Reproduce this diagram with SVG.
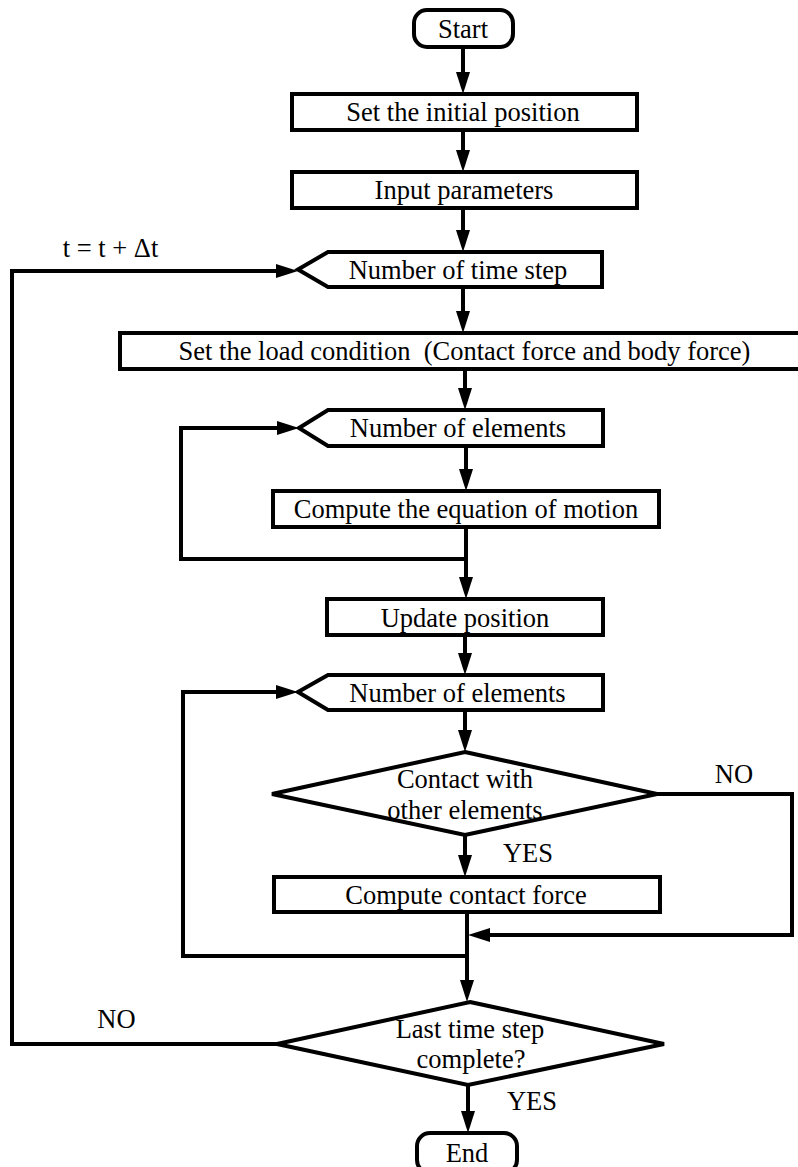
<svg xmlns="http://www.w3.org/2000/svg" width="798" height="1167" viewBox="0 0 798 1167">
<style>
.n{fill:#fff;stroke:#000;stroke-width:4;stroke-linejoin:miter}
.c{fill:none;stroke:#000;stroke-width:4;stroke-linejoin:miter}
.a{marker-end:url(#ah)}
text{font-family:"Liberation Serif","Times New Roman",serif;font-size:26.5px;fill:#000;text-anchor:middle}
.pre{white-space:pre}
</style>
<defs>
<marker id="ah" markerUnits="userSpaceOnUse" markerWidth="22" markerHeight="14" refX="12" refY="7" orient="auto" viewBox="0 0 22 14">
<path d="M0,0 L22,7 L0,14 z" fill="#000"/>
</marker>
</defs>
<rect width="798" height="1167" fill="#fff"/>
<g id="connectors">
<path class="c a" d="M463,48 V84"/>
<path class="c a" d="M463,130 V162"/>
<path class="c a" d="M463,208 V242"/>
<path class="c a" d="M463,287 V323"/>
<path class="c a" d="M465,369 V400"/>
<path class="c a" d="M466,446 V481"/>
<path class="c a" d="M466,527 V559 H181 V428 H289"/>
<path class="c a" d="M466,559 V589"/>
<path class="c a" d="M465,635 V665"/>
<path class="c a" d="M465,710 V742"/>
<path class="c a" d="M465,835 V867"/>
<path class="c a" d="M657,794 H792 V935 H478"/>
<path class="c a" d="M467,912 V992"/>
<path class="c a" d="M467,956 H183 V692 H288"/>
<path class="c a" d="M277,1044 H12 V271 H288"/>
<path class="c a" d="M468,1085 V1123"/>
</g>
<g id="start">
<rect class="n" x="414" y="10" width="99" height="37" rx="13"/>
<text x="463" y="38">Start</text>
</g>
<g id="initial">
<rect class="n" x="292" y="94" width="345" height="36"/>
<text x="463" y="121">Set the initial position</text>
</g>
<g id="input">
<rect class="n" x="292" y="172" width="345" height="36"/>
<text x="464" y="199">Input parameters</text>
</g>
<g id="timestep">
<polygon class="n" points="298,269.5 328,252 602,252 602,287 328,287"/>
<text x="458" y="279">Number of time step</text>
</g>
<g id="load">
<rect class="n" x="120" y="333" width="682" height="36"/>
<text class="pre" xml:space="preserve" x="464.5" y="360">Set the load condition  (Contact force and body force)</text>
</g>
<g id="elements1">
<polygon class="n" points="299,428 328,410 603,410 603,446 328,446"/>
<text x="458" y="437">Number of elements</text>
</g>
<g id="motion">
<rect class="n" x="273" y="491" width="386" height="36"/>
<text x="466" y="518">Compute the equation of motion</text>
</g>
<g id="update">
<rect class="n" x="327" y="599" width="276" height="36"/>
<text x="465" y="627">Update position</text>
</g>
<g id="elements2">
<polygon class="n" points="298,692 328,675 603,675 603,710 328,710"/>
<text x="457.5" y="702">Number of elements</text>
</g>
<g id="contact">
<polygon class="n" points="465,752 657,794 465,835 272,794"/>
<text x="465" y="788">Contact with</text>
<text x="465" y="819">other elements</text>
</g>
<g id="contactforce">
<rect class="n" x="274" y="877" width="386" height="35"/>
<text x="466" y="904">Compute contact force</text>
</g>
<g id="last">
<polygon class="n" points="470,1002 664,1044 468,1085 277,1044"/>
<text x="470" y="1038">Last time step</text>
<text x="471" y="1068">complete?</text>
</g>
<g id="end">
<rect class="n" x="417" y="1133" width="100" height="40" rx="13"/>
<text x="467" y="1162">End</text>
</g>
<g id="labels">
<text x="110.5" y="257">t = t + Δt</text>
<text x="734" y="783">NO</text>
<text x="528" y="862">YES</text>
<text x="116.5" y="1028">NO</text>
<text x="532" y="1110">YES</text>
</g>
</svg>
